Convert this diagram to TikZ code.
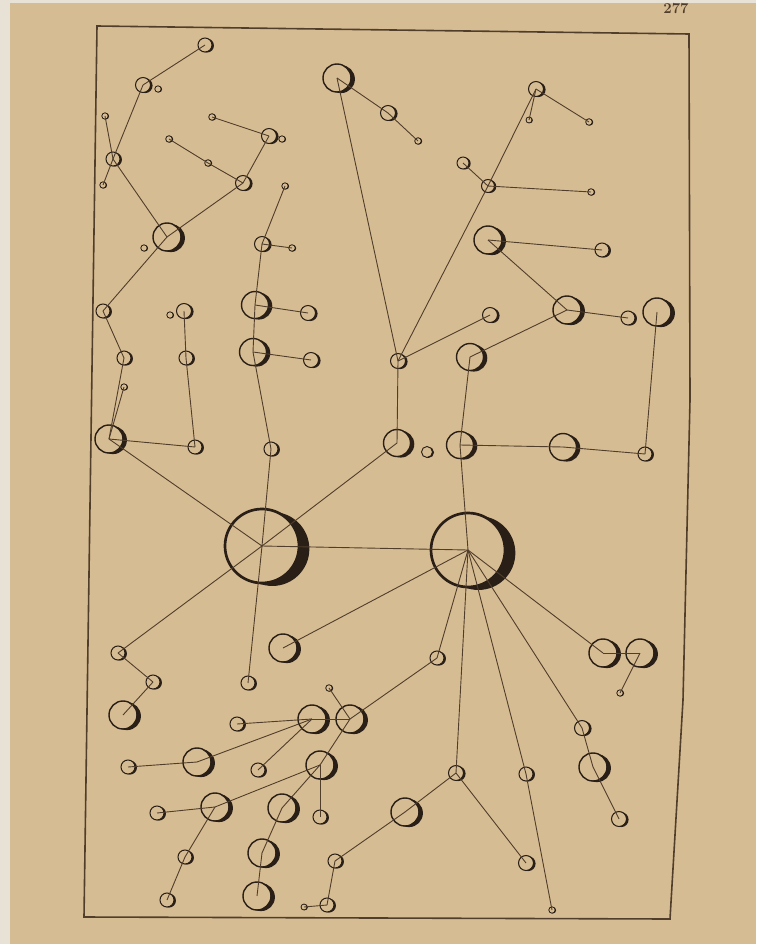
\documentclass[tikz,border=0pt]{standalone}
\usetikzlibrary{calc}
\definecolor{paper}{RGB}{214,188,147}
\definecolor{ink}{RGB}{42,31,22}
\definecolor{linkc}{RGB}{80,61,43}
\definecolor{edgepaper}{RGB}{232,226,214}
\tikzset{
 ring/.style={circle,draw=ink,inner sep=0pt,outer sep=0pt},
 link/.style={draw=linkc,line width=0.9pt},
 frameline/.style={draw=linkc,line width=1.6pt,line join=miter},
}
\newcommand{\cnode}[4]{%
 \pgfmathsetmacro{\cnlw}{0.055*#4+0.65}%
 \pgfmathsetmacro{\cndm}{2*#4}%
 \begin{scope}
  \clip (#2+0.28*#4,#3+0.08*#4) circle (#4pt);
  \fill[ink,even odd rule] (#2,#3) circle (#4pt) (#2-3*#4,#3-3*#4) rectangle (#2+3*#4,#3+3*#4);
 \end{scope}
 \node[ring,line width=\cnlw pt,minimum size=\cndm pt] (#1) at (#2,#3) {};
}
\begin{document}
\begin{tikzpicture}[x=1pt,y=-1pt]
\useasboundingbox (0,0) rectangle (756,944);
\fill[edgepaper] (0,0) rectangle (756,944);
\fill[paper] (10,3) rectangle (756,944);
% frame
\draw[frameline] (97,26) -- (689,34) -- (690,400) -- (683,700) -- (670,919) -- (84,917) -- cycle;
\node[text=linkc,font=\fontsize{15}{15}\selectfont\bfseries] (pg) at (676,9) {277};
% top-left cluster
\cnode{a1}{205}{45}{7}
\cnode{a2}{143}{85}{7.5}
\cnode{a2s}{158}{89}{3.2}
\cnode{a3}{113}{159}{7}
\cnode{a3u}{105}{116}{3.2}
\cnode{a3d}{103}{185}{3.2}
\cnode{a4}{167}{237}{14}
\cnode{a4s}{144}{248}{3.2}
\cnode{a5}{269}{136}{7.5}
\cnode{a5s}{282}{139}{3.2}
\cnode{a5l}{212}{117}{3.3}
\cnode{a6}{243}{183}{7.5}
\cnode{a6l}{169}{139}{3.3}
\cnode{a6m}{208}{163}{3.3}
% left column
\cnode{l1}{103}{311}{7}
\cnode{l2}{124}{358}{7}
\cnode{l3s}{124}{387}{3.2}
\cnode{l4}{109}{439}{14}
\cnode{m1s}{170}{315}{3.2}
\cnode{m1}{184}{311}{7.5}
\cnode{m2}{186}{358}{7}
\cnode{m3}{195}{447}{7}
% B column
\cnode{b0}{285}{186}{3.2}
\cnode{b1}{262}{244}{7.5}
\cnode{b1s}{292}{248}{3.3}
\cnode{b2}{255}{305}{13.5}
\cnode{b2r}{308}{313}{7.5}
\cnode{b3}{253}{352}{13.5}
\cnode{b3r}{311}{360}{7.5}
\cnode{b4}{271}{449}{7}
% top middle / right
\cnode{c1}{337}{78}{14}
\cnode{c2}{388}{113}{7.5}
\cnode{c2s}{418}{141}{3.3}
\cnode{d1}{398}{361}{7.5}
\cnode{c3}{536}{89}{7.5}
\cnode{c3a}{529}{120}{3}
\cnode{c3b}{589}{122}{3.3}
\cnode{c4}{488}{186}{6.5}
\cnode{c4l}{463}{163}{6}
\cnode{c4r}{591}{192}{3.3}
\cnode{c5}{488}{240}{14}
\cnode{c5r}{602}{250}{7}
\cnode{c6}{567}{310}{14}
\cnode{c6s}{628}{318}{7}
\cnode{c7}{657}{312}{14}
\cnode{d2}{490}{315}{7.5}
\cnode{e1}{470}{357}{13.5}
% E row
\cnode{e3}{397}{443}{13.5}
\cnode{e3s}{427}{452}{5.5}
\cnode{e2}{460}{445}{13.5}
\cnode{e4}{563}{447}{13.5}
\cnode{e5}{645}{454}{7}
% big hubs
\cnode{L}{262}{546}{37}
\cnode{R}{468}{550}{37}
% bottom-left
\cnode{g1}{118}{653}{7}
\cnode{g2}{153}{682}{7}
\cnode{g3}{123}{715}{14}
\cnode{g4}{248}{683}{7}
\cnode{g5}{283}{648}{14}
\cnode{h0}{329}{688}{3.3}
\cnode{h1}{312}{719}{14}
\cnode{h2}{350}{719}{14}
\cnode{h3}{237}{724}{7}
\cnode{h4}{197}{762}{14}
\cnode{h5}{128}{767}{7}
\cnode{h6}{258}{770}{7}
\cnode{h7}{320}{765}{14}
\cnode{h8}{215}{807}{14}
\cnode{h9}{157}{813}{7}
\cnode{h10}{185}{857}{7}
\cnode{h11}{167}{900}{7}
\cnode{h12}{282}{808}{14}
\cnode{h13}{262}{853}{14}
\cnode{h14}{257}{896}{14}
\cnode{h15}{320}{817}{7}
% bottom middle
\cnode{r1}{437}{658}{7}
\cnode{r2}{456}{773}{7.5}
\cnode{r3}{526}{774}{7}
\cnode{r4}{552}{910}{3.2}
\cnode{r5}{405}{812}{14}
\cnode{r6}{526}{863}{7.5}
\cnode{r7}{335}{861}{7}
\cnode{r8}{327}{905}{7}
\cnode{r9}{304}{907}{3}
% bottom right
\cnode{s1}{582}{728}{7.5}
\cnode{s2}{593}{767}{14}
\cnode{s3}{619}{819}{7.5}
\cnode{p1}{603}{653}{14}
\cnode{p2}{640}{653}{14}
\cnode{p3}{620}{693}{3.2}
% connectors
\foreach \u/\v in {a1/a2,a2/a3,a3/a3u,a3/a3d,a3/a4,a5l/a5,a5/a6,a6l/a6m,a6m/a6,a6/a4,a4/l1,
 l1/l2,l2/l4,l3s/l4,l4/m3,m1/m2,m2/m3,l4/L,
 b0/b1,b1/b1s,b1/b2,b2/b2r,b2/b3,b3/b3r,b3/b4,b4/L,
 c1/c2,c2/c2s,c1/d1,c3/c3a,c3/c3b,c3/c4,c4/c4l,c4/c4r,c4/d1,c5/c5r,c5/c6,c6/c6s,c6/e1,c7/e5,d1/d2,
 d1/e3,e1/e2,e2/e4,e4/e5,e3/L,e2/R,L/R,
 L/g1,g1/g2,g2/g3,L/g4,R/g5,
 h0/h2,h1/h2,h1/h3,h1/h4,h4/h5,h1/h6,h2/h7,h7/h8,h8/h9,h8/h10,h10/h11,h7/h12,h12/h13,h13/h14,h7/h15,
 R/r1,r1/h2,R/r2,r2/r5,r5/r7,r7/r8,r8/r9,r2/r6,R/r3,r3/r4,
 R/s1,s1/s2,s2/s3,R/p1,p1/p2,p2/p3}
 \draw[link] (\u.center) -- (\v.center);
\end{tikzpicture}
\end{document}
